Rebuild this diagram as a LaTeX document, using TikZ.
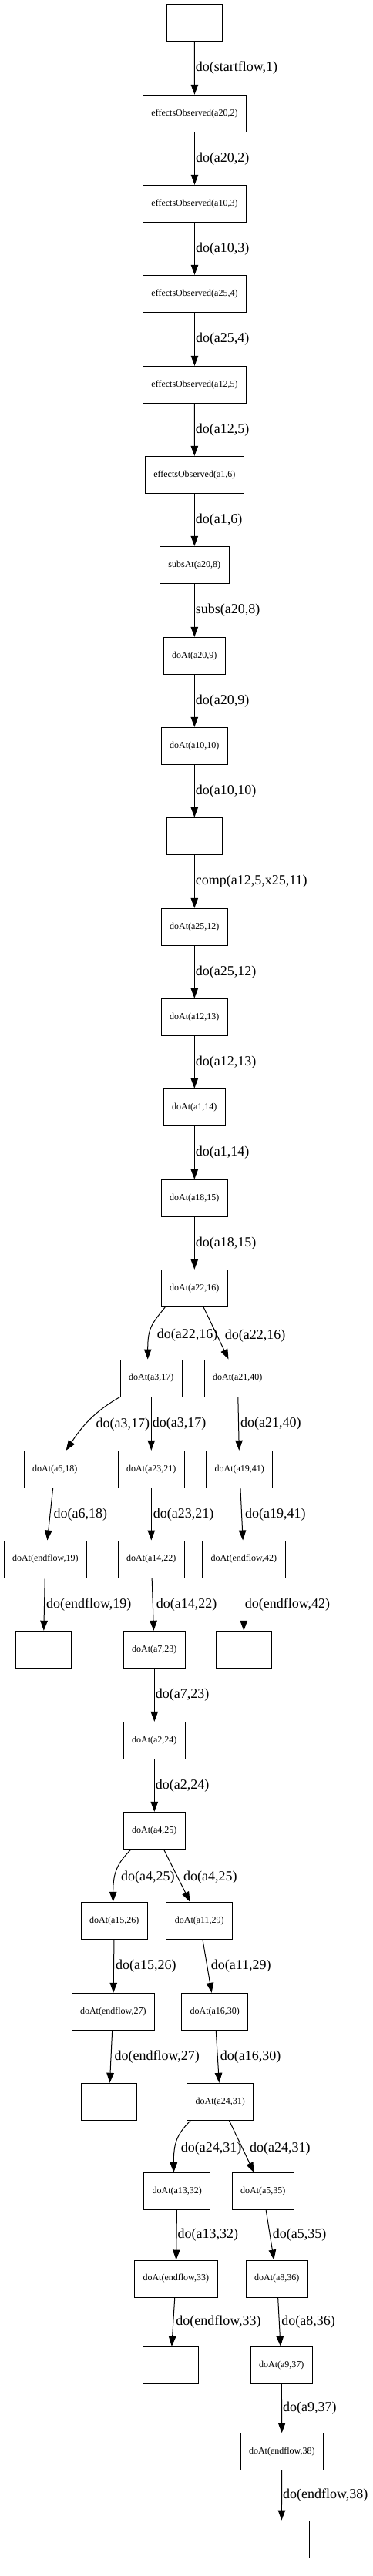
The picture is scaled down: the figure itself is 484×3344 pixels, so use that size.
\documentclass[tikz,border=0pt]{standalone}
\usepackage{fontspec}
\setmainfont{Liberation Serif}
\usetikzlibrary{arrows.meta}

\begin{document}
\begin{tikzpicture}[x=1pt,y=-1pt,
  state/.style={draw, line width=1pt, minimum width=72pt, minimum height=48pt, inner xsep=11pt, inner ysep=0pt, font=\fontsize{12}{14}\selectfont},
  blank/.style={state},
  flow/.style={line width=1pt, -{Triangle[length=13pt,width=9.5pt]}},
  lbl/.style={anchor=west, inner sep=0pt, xshift=1pt, font=\fontsize{18}{20}\selectfont}]
\useasboundingbox (0,0) rectangle (484,3344);

% states
\node[blank] (s0) at (252.3,29.3) {};
\node[state] (e2) at (252.5,147.3) {effectsObserved(a20,2)};
\node[state] (e3) at (252.5,264.3) {effectsObserved(a10,3)};
\node[state] (e4) at (252.5,381.3) {effectsObserved(a25,4)};
\node[state] (e5) at (252.5,499.3) {effectsObserved(a12,5)};
\node[state] (e6) at (252.3,616.3) {effectsObserved(a1,6)};
\node[state] (s8) at (252.3,733.3) {subsAt(a20,8)};
\node[state] (d9) at (252.3,851.3) {doAt(a20,9)};
\node[state] (d10) at (252.3,968.3) {doAt(a10,10)};
\node[blank] (c11) at (252.3,1085.3) {};
\node[state] (d12) at (252.3,1203.3) {doAt(a25,12)};
\node[state] (d13) at (252.3,1320.3) {doAt(a12,13)};
\node[state] (d14) at (252.3,1437.3) {doAt(a1,14)};
\node[state] (d15) at (252.3,1555.3) {doAt(a18,15)};
\node[state] (d16) at (252.3,1672.3) {doAt(a22,16)};
\node[state] (d17) at (196.3,1789) {doAt(a3,17)};
\node[state] (d40) at (308.3,1789) {doAt(a21,40)};
\node[state] (d18) at (71.3,1907.3) {doAt(a6,18)};
\node[state] (d21) at (196.3,1907.3) {doAt(a23,21)};
\node[state] (d41) at (310.8,1907.3) {doAt(a19,41)};
\node[state] (d19) at (58.8,2024) {doAt(endflow,19)};
\node[state] (d22) at (196.3,2024) {doAt(a14,22)};
\node[state] (d42) at (316.3,2024) {doAt(endflow,42)};
\node[blank] (x19) at (56.3,2141.3) {};
\node[state] (d23) at (200.3,2141.3) {doAt(a7,23)};
\node[blank] (x42) at (316.3,2141.3) {};
\node[state] (d24) at (200.3,2259.3) {doAt(a2,24)};
\node[state] (d25) at (200.3,2376.3) {doAt(a4,25)};
\node[state] (d26) at (148.3,2493.3) {doAt(a15,26)};
\node[state] (d29) at (258.8,2493.3) {doAt(a11,29)};
\node[state] (d27) at (146.8,2611.3) {doAt(endflow,27)};
\node[state] (d30) at (278.8,2611.3) {doAt(a16,30)};
\node[blank] (x27) at (141.3,2728.3) {};
\node[state] (d31) at (285.8,2728.3) {doAt(a24,31)};
\node[state] (d32) at (229.8,2844.7) {doAt(a13,32)};
\node[state] (d35) at (341.3,2844.7) {doAt(a5,35)};
\node[state] (d33) at (228.3,2958) {doAt(endflow,33)};
\node[state] (d36) at (359.3,2958) {doAt(a8,36)};
\node[blank] (x33) at (221.3,3070.3) {};
\node[state] (d37) at (365.3,3070.3) {doAt(a9,37)};
\node[state] (d38) at (365.8,3182.7) {doAt(endflow,38)};
\node[blank] (x38) at (365.3,3296) {};

% transitions
\draw[flow] (s0) -- node[lbl] {do(startflow,1)} (e2);
\draw[flow] (e2) -- node[lbl] {do(a20,2)} (e3);
\draw[flow] (e3) -- node[lbl] {do(a10,3)} (e4);
\draw[flow] (e4) -- node[lbl] {do(a25,4)} (e5);
\draw[flow] (e5) -- node[lbl] {do(a12,5)} (e6);
\draw[flow] (e6) -- node[lbl] {do(a1,6)} (s8);
\draw[flow] (s8) -- node[lbl] {subs(a20,8)} (d9);
\draw[flow] (d9) -- node[lbl] {do(a20,9)} (d10);
\draw[flow] (d10) -- node[lbl] {do(a10,10)} (c11);
\draw[flow] (c11) -- node[lbl] {comp(a12,5,x25,11)} (d12);
\draw[flow] (d12) -- node[lbl] {do(a25,12)} (d13);
\draw[flow] (d13) -- node[lbl] {do(a12,13)} (d14);
\draw[flow] (d14) -- node[lbl] {do(a1,14)} (d15);
\draw[flow] (d15) -- node[lbl] {do(a18,15)} (d16);
\draw[flow] ([xshift=5.7pt]d16.south west) .. controls +(-18,22) and +(0,-40) .. node[lbl, pos=.5, xshift=6pt, yshift=-9pt] {do(a22,16)} ([xshift=-4.6pt]d17.north);
\draw[flow] (d16) -- node[lbl, xshift=10pt, yshift=-3pt] {do(a22,16)} (d40);
\draw[flow] (d17.south west) .. controls +(-35,20) and +(20,-30) .. node[lbl, pos=.5, xshift=8pt, yshift=-5pt] {do(a3,17)} ([xshift=14.4pt]d18.north);
\draw[flow] (d17) -- node[lbl] {do(a3,17)} (d21);
\draw[flow] (d40) -- node[lbl, xshift=1pt] {do(a21,40)} (d41);
\draw[flow] (d18) -- node[lbl, xshift=3pt] {do(a6,18)} (d19);
\draw[flow] (d21) -- node[lbl, xshift=1pt] {do(a23,21)} (d22);
\draw[flow] (d41) -- node[lbl, xshift=3pt] {do(a19,41)} (d42);
\draw[flow] (d19) -- node[lbl, xshift=1pt] {do(endflow,19)} (x19);
\draw[flow] (d22) -- node[lbl, xshift=3pt] {do(a14,22)} (d23);
\draw[flow] (d42) -- node[lbl] {do(endflow,42)} (x42);
\draw[flow] (d23) -- node[lbl] {do(a7,23)} (d24);
\draw[flow] (d24) -- node[lbl] {do(a2,24)} (d25);
\draw[flow] ([xshift=10.4pt]d25.south west) .. controls +(-18,18) and +(0,-38) .. node[lbl, pos=.5, xshift=4pt, yshift=-10pt] {do(a4,25)} ([xshift=-1.6pt]d26.north);
\draw[flow] (d25) -- node[lbl, xshift=7pt, yshift=-2.5pt] {do(a4,25)} (d29);
\draw[flow] (d26) -- node[lbl, xshift=1pt] {do(a15,26)} (d27);
\draw[flow] (d29) -- node[lbl, xshift=3.5pt] {do(a11,29)} (d30);
\draw[flow] (d27) -- node[lbl, xshift=3pt] {do(endflow,27)} (x27);
\draw[flow] (d30) -- node[lbl, xshift=2pt] {do(a16,30)} (d31);
\draw[flow] ([xshift=5pt]d31.south west) .. controls +(-18,18) and +(0,-38) .. node[lbl, pos=.5, xshift=4pt, yshift=-10pt] {do(a24,31)} ([xshift=-4.5pt]d32.north);
\draw[flow] (d31) -- node[lbl, xshift=9pt, yshift=-3pt] {do(a24,31)} (d35);
\draw[flow] (d32) -- node[lbl] {do(a13,32)} (d33);
\draw[flow] (d35) -- node[lbl, xshift=2pt] {do(a5,35)} (d36);
\draw[flow] (d33) -- node[lbl, xshift=2pt] {do(endflow,33)} (x33);
\draw[flow] (d36) -- node[lbl, xshift=1.5pt] {do(a8,36)} (d37);
\draw[flow] (d37) -- node[lbl] {do(a9,37)} (d38);
\draw[flow] (d38) -- node[lbl] {do(endflow,38)} (x38);
\end{tikzpicture}
\end{document}
